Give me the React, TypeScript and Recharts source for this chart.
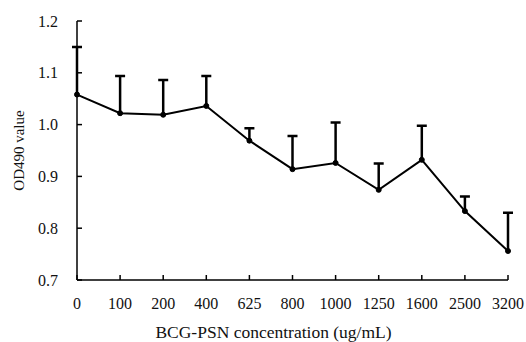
import { ErrorBar, Label, Line, LineChart, XAxis, YAxis } from "recharts";

// BCG-PSN concentration (ug/mL)
const concentrations = ["0", "100", "200", "400", "625", "800", "1000", "1250", "1600", "2500", "3200"];
// mean OD490
const odValues = [1.058, 1.022, 1.019, 1.036, 0.969, 0.914, 0.926, 0.874, 0.932, 0.833, 0.756];
// upward error (SD)
const sdValues = [0.092, 0.072, 0.067, 0.058, 0.024, 0.064, 0.078, 0.051, 0.066, 0.028, 0.074];
const yTicks = [0.7, 0.8, 0.9, 1.0, 1.1, 1.2];

const data = concentrations.map((conc, i) => ({
  conc,
  od: odValues[i],
  upper: odValues[i] + sdValues[i],
  err: [0, sdValues[i]],
}));

const FONT = "'Liberation Serif', 'Times New Roman', serif";

// top cap of the error bar, placed by the library at the "upper" value
function Cap(props: any) {
  const { cx, cy } = props;
  if (cx == null || cy == null) return null;
  return <line x1={cx - 5} x2={cx + 5} y1={cy} y2={cy} stroke="#000" strokeWidth={2.5} />;
}

export default function App() {
  return (
    <div style={{ position: "absolute", left: 0, top: 0, background: "#fff" }}>
      <LineChart
        width={526}
        height={342}
        data={data}
        margin={{ top: 21, right: 18, bottom: 0, left: 0 }}
      >
        <XAxis
          dataKey="conc"
          scale="point"
          padding={{ left: 0, right: 0 }}
          height={62}
          interval={0}
          tickSize={-5}
          tickMargin={23}
          stroke="#000"
          strokeWidth={1.5}
          tickLine={{ stroke: "#000", strokeWidth: 1.5 }}
          tick={{ fill: "#111", fontSize: 16, fontFamily: FONT }}
        >
          <Label
            content={({ viewBox }: any) => (
              <text
                x={viewBox.x + viewBox.width / 2 - 19}
                y={viewBox.y + 58}
                textAnchor="middle"
                fill="#111"
                fontSize={17.5}
                fontFamily={FONT}
              >
                BCG-PSN concentration (ug/mL)
              </text>
            )}
          />
        </XAxis>
        <YAxis
          width={77}
          domain={[0.7, 1.2]}
          ticks={yTicks}
          allowDataOverflow
          tickSize={-5}
          tickMargin={24}
          stroke="#000"
          strokeWidth={1.5}
          tickLine={{ stroke: "#000", strokeWidth: 1.5 }}
          tick={{ fill: "#111", fontSize: 16, fontFamily: FONT }}
          tickFormatter={(v: number) => v.toFixed(1)}
        >
          <Label
            content={({ viewBox }: any) => {
              const cx = 24;
              const cy = viewBox.y + viewBox.height / 2;
              return (
                <text
                  x={cx}
                  y={cy}
                  transform={`rotate(-90 ${cx} ${cy})`}
                  textAnchor="middle"
                  fill="#111"
                  fontSize={15}
                  fontFamily={FONT}
                >
                  OD490 value
                </text>
              );
            }}
          />
        </YAxis>
        <Line
          dataKey="upper"
          stroke="none"
          dot={<Cap />}
          activeDot={false}
          legendType="none"
          isAnimationActive={false}
        />
        <Line
          dataKey="od"
          stroke="#000"
          strokeWidth={2}
          dot={{ r: 2.5, fill: "#000", stroke: "#000", strokeWidth: 1 }}
          activeDot={false}
          isAnimationActive={false}
        >
          <ErrorBar dataKey="err" direction="y" width={0} stroke="#000" strokeWidth={2.5} />
        </Line>
      </LineChart>
    </div>
  );
}
